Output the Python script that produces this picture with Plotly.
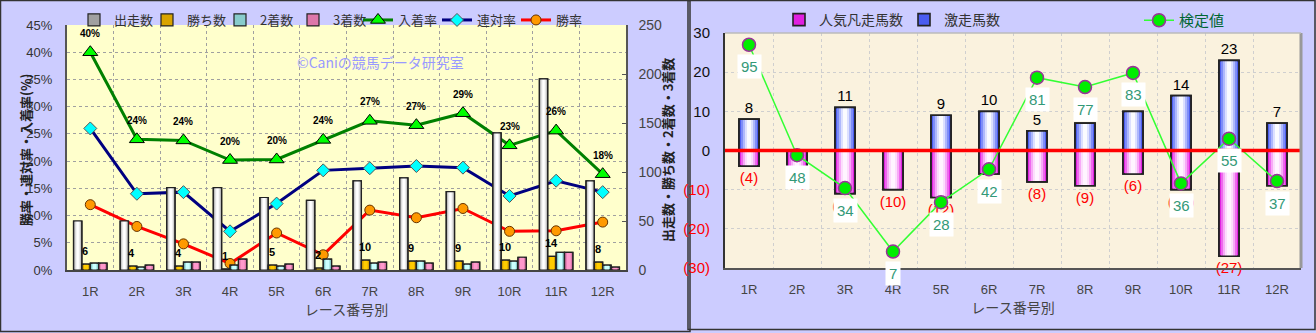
import plotly.graph_objects as go

# ---------------- data ----------------
races = ['1R', '2R', '3R', '4R', '5R', '6R', '7R', '8R', '9R', '10R', '11R', '12R']

# left chart
starts = [50, 50, 84, 84, 74, 71, 91, 94, 80, 140, 195, 91]      # 出走数
wins = [6, 4, 4, 1, 5, 2, 10, 9, 9, 10, 14, 8]                     # 勝ち数
seconds = [7, 3, 8, 5, 4, 11, 7, 9, 6, 9, 18, 5]                    # 2着数
thirds = [7, 5, 8, 11, 6, 4, 8, 7, 8, 13, 18, 3]                    # 3着数
place_rate = [40.0, 24.0, 23.8, 20.2, 20.3, 23.9, 27.4, 26.6, 28.8, 22.9, 25.6, 17.6]   # 入着率
rentai_rate = [26.0, 14.0, 14.3, 7.1, 12.2, 18.3, 18.7, 19.1, 18.8, 13.6, 16.4, 14.3]   # 連対率
win_rate = [12.0, 8.0, 4.8, 1.2, 6.8, 2.8, 11.0, 9.6, 11.3, 7.1, 7.2, 8.8]              # 勝率
left_ticks = [0, 5, 10, 15, 20, 25, 30, 35, 40, 45]
right_ticks = [0, 50, 100, 150, 200, 250]

# right chart
gekisou = [8, 0, 11, 0, 9, 10, 5, 7, 10, 14, 23, 7]          # 激走馬数
bonsou = [4, 5, 11, 10, 12, 6, 8, 9, 6, 10, 27, 9]           # 人気凡走馬数
kentei = [95, 48, 34, 7, 28, 42, 81, 77, 83, 36, 55, 37]     # 検定値
r_ticks = [-30, -20, -10, 0, 10, 20, 30]

W, H = 1316, 333
CJK = "Noto Sans CJK JP"
NUM = "Liberation Sans, Noto Sans CJK JP"

fig = go.Figure()


def shaded_bar(x, y, xa, ya, center, width, colors, name, legend, showlegend,
               text=None, textcolor='#000', textsize=14, lw=1.2):
    n = len(colors)
    for i, c in enumerate(colors):
        w = width * (n - i) / n
        fig.add_trace(go.Bar(
            x=x, y=y, xaxis=xa, yaxis=ya, width=w, offset=center - w / 2,
            marker=dict(color=c, line=dict(width=lw if i == 0 else 0, color='#222')),
            name=name, legend=legend, showlegend=(showlegend and i == 0),
            hoverinfo='skip'))
    fig.add_trace(go.Bar(
        x=x, y=y, xaxis=xa, yaxis=ya, width=width, offset=center - width / 2,
        marker=dict(color='rgba(0,0,0,0)', line=dict(width=lw, color='#222')),
        showlegend=False, text=text, textposition='outside', constraintext='none',
        cliponaxis=False, textfont=dict(color=textcolor, size=textsize, family=NUM),
        hoverinfo='skip'))


# ---------- left chart bars ----------
bw = 0.18
shaded_bar(races, starts, 'x', 'y2', -0.27, bw,
           ['#A0A0A0', '#CFCFCF', '#EEEEEE', '#FFFFFF'], '出走数', 'legend', True, lw=1.2)
shaded_bar(races, wins, 'x', 'y2', -0.09, bw,
           ['#D9A400', '#FFCC00'], '勝ち数', 'legend', True, lw=1.2)
shaded_bar(races, seconds, 'x', 'y2', 0.09, bw,
           ['#88CCCC', '#CCFFFF'], '2着数', 'legend', True, lw=1.2)
shaded_bar(races, thirds, 'x', 'y2', 0.27, bw,
           ['#DD77AA', '#FF99CC'], '3着数', 'legend', True, lw=1.2)

# ---------- left chart lines ----------
fig.add_trace(go.Scatter(
    x=races, y=place_rate, xaxis='x', yaxis='y', name='入着率', mode='lines+markers',
    line=dict(color='#008000', width=3),
    marker=dict(symbol='triangle-up', size=13, color='#00FF00', line=dict(color='#000', width=1)),
    legend='legend4'))
fig.add_trace(go.Scatter(
    x=races, y=rentai_rate, xaxis='x', yaxis='y', name='連対率', mode='lines+markers',
    line=dict(color='#000080', width=3),
    marker=dict(symbol='diamond', size=10, color='#00FFFF', line=dict(color='#555', width=1)),
    legend='legend4'))
fig.add_trace(go.Scatter(
    x=races, y=win_rate, xaxis='x', yaxis='y', name='勝率', mode='lines+markers',
    line=dict(color='#FF0000', width=3),
    marker=dict(symbol='circle', size=10, color='#FF9900', line=dict(color='#663300', width=1)),
    legend='legend4'))

# ---------- right chart bars ----------
rbw = 0.42
shaded_bar(races, [-v for v in bonsou], 'x2', 'y3', 0.0, rbw,
           ['#E020E0', '#EE66EE', '#F7AAF7', '#FCDDFC', '#FFF4FF'], '人気凡走馬数', 'legend2', True,
           text=['(%d)' % v for v in bonsou], textcolor='#FF0000', textsize=15, lw=1.6)
shaded_bar(races, gekisou, 'x2', 'y3', 0.0, rbw,
           ['#4A5CF0', '#7D8CF8', '#AEB8FC', '#DCE0FF', '#FAFBFF'], '激走馬数', 'legend2', True,
           text=[str(v) if v else '' for v in gekisou], textcolor='#000', textsize=15, lw=1.6)

fig.add_trace(go.Scatter(
    x=races, y=kentei, xaxis='x2', yaxis='y4', name='検定値', mode='lines+markers',
    line=dict(color='#33FF33', width=1.5),
    marker=dict(symbol='circle', size=13, color='#00EE00', line=dict(color='#993399', width=1.5)),
    legend='legend3'))

# ---------- annotations ----------
ann = []
for r, v in zip(races, place_rate):
    ann.append(dict(x=r, y=v, xref='x', yref='y', text='<b>%d%%</b>' % round(v), showarrow=False,
                    yshift=19, font=dict(size=10, color='#000', family=NUM)))
for r, v in zip(races, wins):
    ann.append(dict(x=r, y=v, xref='x', yref='y2', text='<b>%d</b>' % v, showarrow=False,
                    xshift=-5, yshift=13, font=dict(size=11, color='#000', family=NUM)))
for r, v in zip(races, kentei):
    ann.append(dict(x=r, y=v, xref='x2', yref='y4', text=str(v), showarrow=False,
                    yshift=-22, bgcolor='#FFFFFF', borderpad=3,
                    font=dict(size=15, color='#339977', family=NUM)))
ann.append(dict(x=295 / W, y=1 - 50 / H, xref='paper', yref='paper',
                text='©Caniの競馬データ研究室', showarrow=False,
                font=dict(size=14, color='#9999FF', family=CJK)))
# y-axis titles
ann.append(dict(x=25 / W, y=1 - 150 / H, xref='paper', yref='paper', textangle=-90,
                xanchor='center', yanchor='middle',
                text='<b>勝率・連対率・入着率(%)</b>', showarrow=False,
                font=dict(size=13, color='#222', family=CJK)))
ann.append(dict(x=667 / W, y=1 - 150 / H, xref='paper', yref='paper', textangle=-90,
                xanchor='center', yanchor='middle',
                text='<b>出走数・勝ち数・2着数・3着数</b>', showarrow=False,
                font=dict(size=13, color='#222', family=CJK)))

# ---------- shapes ----------
shapes = [
    dict(type='rect', xref='paper', yref='paper', x0=0.5 / W, x1=690 / W, y0=1.5 / H, y1=1 - 0.5 / H,
         line=dict(color='#333', width=1.5), layer='below'),
    dict(type='rect', xref='paper', yref='paper', x0=688 / W, x1=1 - 1 / W, y0=3.5 / H, y1=1 - 0.5 / H,
         line=dict(color='#333', width=1.5), layer='below'),
    dict(type='rect', xref='x2 domain', yref='y3 domain', x0=0, x1=1, y0=0, y1=1,
         fillcolor='#FAF2DE', line=dict(width=0), layer='below'),
    dict(type='line', xref='x2 domain', yref='y3', x0=0, x1=1, y0=0, y1=0,
         line=dict(color='#FF0000', width=3.5)),
    dict(type='line', xref='x2 domain', yref='y3 domain', x0=1, x1=1, y0=0, y1=1,
         line=dict(color='#999', width=3)),
    dict(type='line', xref='x2 domain', yref='y3 domain', x0=0, x1=1, y0=1, y1=1,
         line=dict(color='#BBB', width=1.5)),
]

red = lambda s: '<span style="color:#FF0000">%s</span>' % s
r_ticktext = [red('(%d)' % -t) if t < 0 else str(t) for t in r_ticks]

fig.update_layout(
    width=W, height=H,
    margin=dict(l=0, r=0, t=0, b=0, autoexpand=False),
    paper_bgcolor='#CCCCFF',
    plot_bgcolor='#FFFFCC',
    font=dict(family=NUM, color='#333'),
    barmode='group',
    showlegend=True,
    annotations=ann,
    shapes=shapes,
    xaxis=dict(domain=[67 / W, 626 / W], anchor='y', type='category', tickson='boundaries',
               automargin=False,
               showgrid=True, griddash='dot', gridcolor='#A0A0A0', gridwidth=1, ticks='',
               showline=True, linecolor='#444', linewidth=2,
               tickfont=dict(size=13, color='#444'), ticklabelstandoff=8,
               range=[-0.5, 11.5],
               title=dict(text='レース番号別', font=dict(size=14, color='#444', family=CJK), standoff=8)),
    yaxis=dict(domain=[1 - 270 / H, 1 - 25 / H], anchor='x', range=[0, 45], automargin=False,
               tickvals=left_ticks, ticktext=['%d%%' % t for t in left_ticks],
               showgrid=True, griddash='dot', gridcolor='#A0A0A0', zeroline=False,
               showline=True, linecolor='#555', linewidth=2, ticks='',
               tickfont=dict(size=13, color='#333'), ticklabelstandoff=10),
    yaxis2=dict(overlaying='y', anchor='x', side='right', range=[0, 250], tickvals=right_ticks,
                automargin=False,
                showgrid=False, zeroline=False, showline=True, linecolor='#555', linewidth=1.5,
                ticks='inside', ticklen=4, tickcolor='#555',
                tickfont=dict(size=14, color='#444'), ticklabelstandoff=8),
    xaxis2=dict(domain=[725 / W, 1301 / W], anchor='y3', type='category', tickson='boundaries',
                automargin=False,
                showgrid=True, griddash='dot', gridcolor='#CFCFCF', ticks='',
                showline=True, linecolor='#555', linewidth=2, range=[-0.5, 11.5],
                tickfont=dict(size=13, color='#444'), ticklabelstandoff=8,
                title=dict(text='レース番号別', font=dict(size=14, color='#444', family=CJK), standoff=8)),
    yaxis3=dict(domain=[1 - 268 / H, 1 - 33 / H], anchor='x2', range=[-30, 30], automargin=False,
                tickvals=r_ticks, ticktext=r_ticktext, showgrid=True, griddash='dot',
                gridcolor='#CFCFCF', zeroline=False, showline=True, linecolor='#333', linewidth=2,
                ticks='', tickfont=dict(size=15, color='#111'), ticklabelstandoff=10),
    yaxis4=dict(overlaying='y3', anchor='x2', range=[0, 100], visible=False, automargin=False),
    legend=dict(orientation='h', x=74 / W, y=1 - 5 / H, xanchor='left', yanchor='top',
                bgcolor='rgba(0,0,0,0)', font=dict(size=13, color='#333', family=CJK),
                itemwidth=30, entrywidth=28, tracegroupgap=0),
    legend4=dict(orientation='h', x=358 / W, y=1 - 5 / H, xanchor='left', yanchor='top',
                 bgcolor='rgba(0,0,0,0)', font=dict(size=13, color='#333', family=CJK),
                 itemwidth=30, entrywidth=34, tracegroupgap=0),
    legend2=dict(orientation='h', x=779 / W, y=1 - 4 / H, xanchor='left', yanchor='top',
                 bgcolor='rgba(0,0,0,0)', font=dict(size=14, color='#333', family=CJK),
                 itemwidth=30, entrywidth=80),
    legend3=dict(orientation='h', x=1139 / W, y=1 - 4 / H, xanchor='left', yanchor='top',
                 bgcolor='rgba(0,0,0,0)', font=dict(size=15, color='#006633', family=CJK),
                 itemwidth=30),
)

fig.write_html("out.html")
